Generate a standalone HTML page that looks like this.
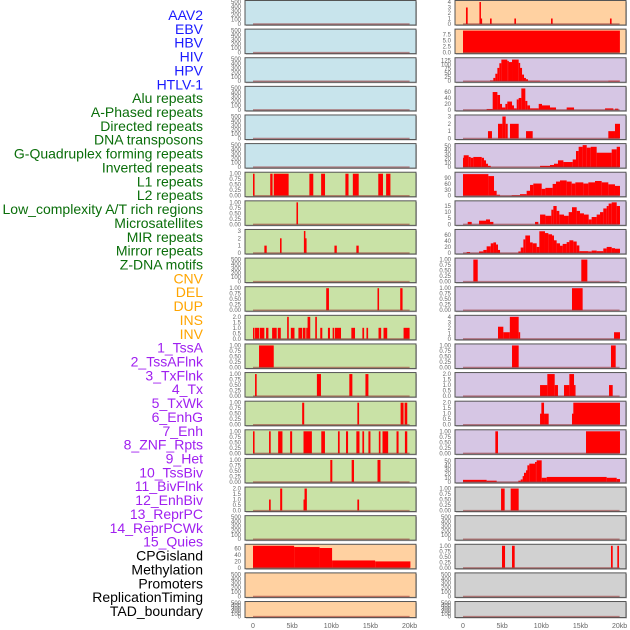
<!DOCTYPE html>
<html><head><meta charset="utf-8">
<style>
html,body{margin:0;padding:0;background:#fff;}
svg{display:block;font-family:"Liberation Sans",sans-serif;}
</style></head>
<body>
<svg id="chart" width="630" height="630" viewBox="0 0 630 630"></svg>
<script>
// ---------- labels ----------
const trackLabels = ["AAV2","EBV","HBV","HIV","HPV","HTLV-1","Alu repeats","A-Phased repeats","Directed repeats","DNA transposons","G-Quadruplex forming repeats","Inverted repeats","L1 repeats","L2 repeats","Low_complexity A/T rich regions","Microsatellites","MIR repeats","Mirror repeats","Z-DNA motifs","CNV","DEL","DUP","INS","INV","1_TssA","2_TssAFlnk","3_TxFlnk","4_Tx","5_TxWk","6_EnhG","7_Enh","8_ZNF_Rpts","9_Het","10_TssBiv","11_BivFlnk","12_EnhBiv","13_ReprPC","14_ReprPCWk","15_Quies","CPGisland","Methylation","Promoters","ReplicationTiming","TAD_boundary"];
const labelGroups = [6,13,5,15,5];
const groupColors = ["#1a1aff","#0a6e0a","#ffa500","#a020f0","#000000"];
const xTickKb = [0,5,10,15,20];
const xTickLabels = ["0","5kb","10kb","15kb","20kb"];

// ---------- tick label sets ----------
const T500 = [0,100,200,300,400,500];
const T1 = [0,0.25,0.5,0.75,1];
const T2 = [0,0.5,1,1.5,2];
const T3 = [0,1,2,3];
const T4 = [0,1,2,3,4];

// ---------- segment data [startKb, endKb, value] ----------
const L07 = [[0,0.2,1],[2.2,2.5,1],[2.65,4.55,1],[7.2,7.7,1],[8.7,9.2,1],[11.8,12.2,1],[12.75,13.5,1],[16,16.6,1],[17,17.55,1]];
const L08 = [[5.55,5.75,1]];
const L09 = [[1.45,1.75,1],[3.45,3.65,2],[6.5,6.65,3],[6.65,6.8,2],[10.4,10.7,1],[13.2,13.5,1]];
const L11 = [[9.35,9.7,1],[15.9,16.1,1],[18.8,19.1,1]];
const L12 = [[0,0.08,1],[0.26,0.77,1],[0.85,1.45,1],[1.67,1.97,1],[2.44,3.03,1],[3.16,3.55,1],[4.36,4.57,2],[4.83,5.3,1],[5.8,6.28,1],[6.37,6.71,1],[6.8,6.97,1],[6.97,7.31,2],[7.95,8.16,2],[8.59,8.85,1],[9.57,9.83,1],[10.17,10.38,1],[10.47,11.24,1],[12.56,13.03,1],[13.97,14.19,1],[14.49,14.7,1],[16.03,16.37,1],[16.67,17.14,1],[19.23,20.0,1]];
const L13 = [[0.77,2.65,1]];
const L14 = [[0.26,0.47,1],[8.16,8.68,1],[12.3,12.69,1],[14.36,14.74,1]];
const L15 = [[6.28,6.54,1],[13.33,13.55,1],[18.85,19.23,1],[19.36,19.7,1]];
const L16 = [[0,0.2,1],[2.05,2.26,1],[3.21,3.76,1],[4.74,5.0,1],[6.45,7.52,1],[8.72,9.19,1],[10.85,11.07,1],[11.88,12.14,1],[13.2,13.6,1],[13.97,14.19,1],[14.74,15.0,1],[16.07,16.28,1],[16.54,17.26,1],[18.33,18.59,1],[19.4,19.7,1]];
const L17 = [[9.87,10.13,1],[12.6,12.9,1],[15.9,16.28,1]];
const L18 = [[2.05,2.26,1],[3.47,3.73,2],[6.45,6.58,1],[6.58,6.88,2],[13.33,13.55,1]];
const L20 = [[0,5.25,70],[5.25,8.5,65],[8.5,10.1,62],[10.1,15.6,23],[15.6,20.1,20]];

const R01 = [[0.38,0.6,3],[2.1,2.25,4],[2.25,2.4,1],[3.45,3.66,1],[6.56,6.77,1],[11.24,11.45,1],[18.77,18.98,1]];
const R02 = [[0,20.04,9.2]];
const R03 = [[3.45,3.87,5],[3.87,4.13,20],[4.13,4.39,45],[4.39,4.64,80],[4.64,4.9,108],[4.9,5.66,130],[5.66,5.83,122],[5.83,6.26,115],[6.26,7.11,130],[7.11,7.28,110],[7.28,7.54,80],[7.54,7.79,40],[7.79,8.04,20],[8.04,8.3,12],[8.3,9.83,3],[18.56,20.05,3]];
const R04 = [[3.02,3.79,3],[3.79,4.39,60],[4.39,4.73,50],[4.73,4.98,20],[4.98,5.41,8],[5.41,5.66,20],[5.66,6.26,28],[6.26,6.51,15],[6.51,6.86,5],[6.86,7.11,35],[7.11,7.45,40],[7.45,7.96,72],[7.96,8.22,30],[8.22,8.56,15],[8.56,9.67,5],[9.67,10.09,20],[10.09,11.11,15],[11.11,11.88,8],[13.24,14.18,8],[18.14,19.2,5],[19.41,19.84,4]];
const R05 = [[3.19,3.7,1],[4.47,5.03,2],[5.03,5.45,3],[5.45,5.71,2],[6.0,7.11,2],[8.05,8.9,1],[18.56,19.41,1],[19.41,20.05,2]];
const R06 = [[0,0.09,22],[0.09,0.73,28],[0.73,0.98,24],[0.98,1.32,22],[1.32,2.39,24],[2.39,2.68,22],[2.68,2.94,16],[2.94,3.19,8],[3.19,3.54,3],[9.84,11.11,3],[11.11,11.62,5],[11.62,12.13,8],[12.13,12.82,16],[12.82,14.01,12],[14.01,14.43,18],[14.43,14.77,38],[14.77,15.28,48],[15.28,15.8,52],[15.8,16.31,46],[16.31,17.07,48],[17.07,18.99,34],[18.99,19.63,42],[19.63,20.05,48]];
const R07 = [[0,3.24,110],[3.24,3.96,100],[3.96,4.3,25],[4.3,4.73,5],[6.22,7.28,3],[7.28,8.13,8],[8.13,8.56,25],[8.56,8.98,55],[8.98,10.05,62],[10.05,10.52,35],[10.52,11.45,40],[11.45,11.88,60],[11.88,12.39,72],[12.39,13.24,78],[13.24,13.88,72],[13.88,14.35,62],[14.35,15.37,68],[15.37,16.01,62],[16.01,16.86,68],[16.86,17.71,75],[17.71,18.56,68],[18.56,19.41,58],[19.41,20.05,50]];
const R08 = [[0.6,1.11,2],[2.05,2.94,3],[2.94,3.45,4],[3.45,3.88,2],[9.2,9.62,2],[9.84,10.52,8],[10.52,11.28,7],[11.28,11.54,12],[11.54,11.96,15],[11.96,12.3,11],[12.3,12.9,8],[12.9,13.5,7],[13.5,13.92,10],[13.92,14.52,14],[14.52,14.94,11],[14.94,15.45,9],[15.45,16.05,8],[16.05,16.43,4],[16.43,17.07,6],[17.07,17.5,8],[17.5,17.92,10],[17.92,18.35,13],[18.35,18.6,15],[18.6,18.99,17],[18.99,19.63,18],[19.63,20.05,15]];
const R09 = [[0.47,0.9,3],[2.05,2.6,5],[2.6,3.02,10],[3.02,3.54,22],[3.54,3.88,32],[3.88,4.22,35],[4.22,4.47,28],[4.47,4.73,10],[7.07,7.37,5],[7.37,7.71,18],[7.71,7.96,45],[7.96,8.56,58],[8.56,8.9,35],[8.9,9.41,32],[9.41,9.75,20],[9.75,10.47,72],[10.47,10.9,66],[10.9,11.37,62],[11.37,11.62,58],[11.62,11.96,42],[11.96,12.39,32],[12.39,12.73,24],[12.73,13.24,30],[13.24,13.58,36],[13.58,14.09,42],[14.09,14.52,38],[14.52,14.86,25],[14.86,16.01,6],[16.01,16.43,5],[16.43,17.07,8],[17.07,17.92,6],[17.92,18.35,15],[18.35,18.99,20],[18.99,19.41,16],[19.41,20.05,14]];
const R10 = [[1.32,1.88,1],[15.11,15.88,1]];
const R11 = [[13.92,15.28,1]];
const R12 = [[4.47,5.15,2.2],[5.15,5.98,1.2],[5.98,7.11,4],[7.11,7.28,1.2],[19.29,20.05,1.2]];
const R13 = [[6.26,7.11,1],[18.9,19.5,1]];
const R14 = [[9.84,10.77,1],[10.77,11.71,2],[11.71,12.13,1],[12.9,13.58,1],[13.58,14.18,2],[14.18,14.35,1],[18.65,19.12,1]];
const R15 = [[9.84,10.01,1],[10.01,10.35,2],[10.35,10.94,1],[13.92,14.09,1],[14.09,20.05,2]];
const R16 = [[4.13,4.47,1],[15.71,20.05,1]];
const R17 = [[0,3.02,5],[3.02,4.3,3],[7.07,7.37,3],[7.37,7.62,6],[7.62,7.79,14],[7.79,8.05,22],[8.05,8.22,28],[8.22,8.47,40],[8.47,9.2,44],[9.2,9.41,48],[9.41,10.05,52],[10.05,10.69,10],[10.69,18.35,12],[18.35,19.63,10],[19.63,20.05,7]];
const R18 = [[4.86,5.32,1],[6.09,7.11,1]];
const R20 = [[4.98,5.37,1],[6.26,6.6,1],[18.9,19.12,1],[19.71,19.92,1]];

const BLUE="#c8e4ec", GREEN="#c9e2a6", PEACH="#ffd1a1", LAV="#d6c6e4", GREY="#d1d1d1";
// [bg, axisMax, ticks, tickDecimals, segments]
const leftPanels = [
 [BLUE,500,T500,0,[]],[BLUE,500,T500,0,[]],[BLUE,500,T500,0,[]],[BLUE,500,T500,0,[]],[BLUE,500,T500,0,[]],[BLUE,500,T500,0,[]],
 [GREEN,1,T1,2,L07],[GREEN,1,T1,2,L08],[GREEN,3,T3,0,L09],[GREEN,500,T500,0,[]],[GREEN,1,T1,2,L11],[GREEN,2,T2,1,L12],
 [GREEN,1,T1,2,L13],[GREEN,1,T1,2,L14],[GREEN,1,T1,2,L15],[GREEN,1,T1,2,L16],[GREEN,1,T1,2,L17],[GREEN,2,T2,1,L18],
 [GREEN,500,T500,0,[]],[PEACH,69,[0,20,40,60],0,L20],[PEACH,500,T500,0,[]],[PEACH,500,T500,0,[]]
];
const rightPanels = [
 [PEACH,4,T4,0,R01],[PEACH,9.2,[0,2.5,5,7.5],1,R02],[LAV,132,[0,25,50,75,100,125],0,R03],[LAV,74,[0,20,40,60],0,R04],
 [LAV,3,T3,0,R05],[LAV,52,[0,10,20,30,40,50],0,R06],[LAV,112,[0,30,60,90],0,R07],[LAV,18,[0,5,10,15],0,R08],
 [LAV,73,[0,20,40,60],0,R09],[LAV,1,T1,2,R10],[LAV,1,T1,2,R11],[LAV,4,T4,0,R12],[LAV,1,T1,2,R13],[LAV,2,T2,1,R14],
 [LAV,2,T2,1,R15],[LAV,1,T1,2,R16],[LAV,53,[0,10,20,30,40,50],0,R17],[GREY,1,T1,2,R18],[GREY,500,T500,0,[]],
 [GREY,1,T1,2,R20],[GREY,500,T500,0,[]],[GREY,500,T500,0,[]]
];

// ---------- drawing ----------
const NS="http://www.w3.org/2000/svg";
const svg=document.getElementById('chart');
function mk(tag,attrs,parent){const e=document.createElementNS(NS,tag);for(const k in attrs)e.setAttribute(k,attrs[k]);(parent||svg).appendChild(e);return e;}

// left labels
let li=0;
labelGroups.forEach((n,g)=>{for(let j=0;j<n;j++){
  const t=mk('text',{x:203,y:15+li*13.86+5,'text-anchor':'end','font-size':'14',fill:groupColors[g]});
  t.textContent=trackLabels[li];
  
  
  li++;}});

const PXKB=7.83;
function drawColumn(panels,x0,x1,kb0,side){
  const xs=kb=>kb0+kb*PXKB;
  panels.forEach((p,i)=>{
    const [bg,mx,ticks,dec,segs]=p;
    const top=0.5+i*28.62;
    const h=(i===panels.length-1)?16:24.5;
    const g=mk('g',{});
    
    
    mk('rect',{x:x0+1,y:top+1,width:x1-x0,height:h,fill:'#bbb'},g);
    const r=mk('rect',{x:x0,y:top,width:x1-x0,height:h,fill:bg,stroke:'#555','stroke-width':1},g);
    
    
    const yTop=top+1.5, yBase=top+h-1;
    const ys=v=>yBase-(Math.min(v,mx)/mx)*(yBase-yTop);
    segs.forEach(s=>{
      let xa=xs(s[0]), xb=xs(s[1]); if(xb-xa<1.5){xb=xa+1.5;}
      const b=mk('rect',{x:xa,y:ys(s[2]),width:xb-xa,height:yBase-ys(s[2]),fill:'#ff0000'},g);
      
      
    });
    const bl=mk('line',{x1:xs(0),x2:xs(20),y1:yBase,y2:yBase,stroke:'rgba(150,50,50,0.55)','stroke-width':1.4},g);
    
    
    ticks.forEach(v=>{
      const t=mk('text',{x:x0-4,y:ys(v)+2,'text-anchor':'end','font-size':'6',fill:'#666'},g);
      t.textContent=v.toFixed(dec);
      
      
    });
  });
  xTickKb.forEach((k,j)=>{
    const t=mk('text',{x:xs(k),y:628,'text-anchor':'middle','font-size':'7',fill:'#666'});
    t.textContent=xTickLabels[j];
    
    
  });
}
drawColumn(leftPanels,245,416,253,'left');
drawColumn(rightPanels,455,626,463,'right');
</script>
</body></html>
